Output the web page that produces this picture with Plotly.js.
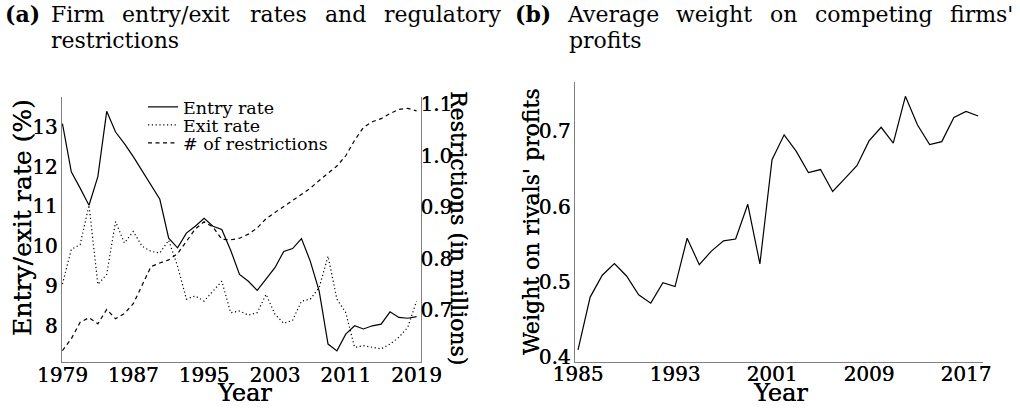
<!DOCTYPE html>
<html>
<head>
<meta charset="utf-8">
<script src="https://cdn.plot.ly/plotly-3.0.1.min.js"></script>
<style>
html,body{margin:0;padding:0;background:#fff;}
#chart{width:1020px;height:409px;}
</style>
</head>
<body>
<div id="chart"></div>
<script>
// ---- Panel (a) data ----
const yearsA = [1979,1980,1981,1982,1983,1984,1985,1986,1987,1988,1989,1990,1991,1992,1993,1994,1995,1996,1997,1998,1999,2000,2001,2002,2003,2004,2005,2006,2007,2008,2009,2010,2011,2012,2013,2014,2015,2016,2017,2018,2019];
const entryRate = [13.08,11.87,11.46,11.03,11.75,13.39,12.87,12.58,12.25,11.9,11.55,11.18,10.2,9.96,10.33,10.5,10.7,10.5,10.42,9.9,9.29,9.12,8.89,9.17,9.46,9.87,9.94,10.19,9.62,8.87,7.54,7.37,7.79,8.0,7.92,8.0,8.04,8.35,8.21,8.19,8.23];
const exitRate = [9.05,9.92,10.04,11.03,9.04,9.29,10.62,10.08,10.37,10.0,9.87,9.83,10.15,9.5,8.67,8.75,8.62,8.87,9.12,8.33,8.37,8.27,8.33,8.79,8.29,8.06,8.14,8.62,8.67,8.96,9.75,8.67,8.33,7.46,7.5,7.46,7.42,7.54,7.71,7.96,8.62];
const restrictions = [0.622,0.645,0.677,0.686,0.674,0.702,0.684,0.694,0.713,0.75,0.785,0.792,0.798,0.81,0.835,0.858,0.872,0.862,0.838,0.837,0.84,0.848,0.86,0.878,0.89,0.902,0.913,0.925,0.937,0.952,0.966,0.98,1.0,1.03,1.055,1.066,1.072,1.082,1.09,1.092,1.087];
const seriesNamesA = ["Entry rate","Exit rate","# of restrictions"];
const xTicksA = [1979,1987,1995,2003,2011,2019];
const yTicksA = [8,9,10,11,12,13];
const yTicksA2 = [0.7,0.8,0.9,1.0,1.1];

// ---- Panel (b) data ----
const yearsB = [1985,1986,1987,1988,1989,1990,1991,1992,1993,1994,1995,1996,1997,1998,1999,2000,2001,2002,2003,2004,2005,2006,2007,2008,2009,2010,2011,2012,2013,2014,2015,2016,2017,2018];
const rivalWeight = [0.41,0.48,0.509,0.5245,0.508,0.483,0.472,0.499,0.494,0.558,0.523,0.541,0.5545,0.557,0.603,0.524,0.662,0.695,0.673,0.645,0.649,0.62,0.637,0.654,0.687,0.705,0.684,0.746,0.708,0.682,0.686,0.718,0.726,0.720];
const xTicksB = [1985,1993,2001,2009,2017];
const yTicksB = [0.4,0.5,0.6,0.7];

// ---- Text ----
const titleA1 = ["<b>(a)</b>","Firm","entry/exit","rates","and","regulatory"];
const titleA2 = "restrictions";
const titleB1 = ["<b>(b)</b>","Average","weight","on","competing","firms'"];
const titleB2 = "profits";

const W = 1020, H = 409;
const px = x => x / W;
const py = y => 1 - y / H;

const FONT = "DejaVu Serif";
const SH = "0.3px 0 0 #000";
const tickFont = {family: FONT, size: 20, color: "#000", shadow: SH};
const legFont = {family: FONT, size: 17.5, color: "#000"};
const axLine = "#808080";

const traces = [
  {x: yearsA, y: entryRate, type: "scatter", mode: "lines", name: seriesNamesA[0],
   line: {color: "#000", width: 1.2}, xaxis: "x", yaxis: "y", legend: "legend"},
  {x: yearsA, y: exitRate, type: "scatter", mode: "lines", name: seriesNamesA[1],
   line: {color: "#000", width: 1.2, dash: "1.2px,2.6px"}, xaxis: "x", yaxis: "y", legend: "legend2"},
  {x: yearsA, y: restrictions, type: "scatter", mode: "lines", name: seriesNamesA[2],
   line: {color: "#000", width: 1.2, dash: "4px,3.5px"}, xaxis: "x", yaxis: "y2", legend: "legend3"},
  {x: yearsB, y: rivalWeight, type: "scatter", mode: "lines", name: "Weight on rivals' profits",
   line: {color: "#000", width: 1.2}, xaxis: "x2", yaxis: "y3", showlegend: false}
];

const baseAxis = {
  showgrid: false, zeroline: false, ticks: "", ticklen: 0, showline: true,
  linecolor: axLine, linewidth: 1.4, tickfont: tickFont, fixedrange: true
};

const ann = [];
const titleFont = {family: FONT, size: 22, color: "#000"};
const a1x = [3, 49, 120, 248, 323, 382];
titleA1.forEach((t, i) => ann.push({text: t, x: px(a1x[i]), y: py(14), xref: "paper", yref: "paper",
  xanchor: "left", yanchor: "middle", showarrow: false, font: titleFont}));
ann.push({text: titleA2, x: px(49), y: py(40), xref: "paper", yref: "paper",
  xanchor: "left", yanchor: "middle", showarrow: false, font: titleFont});
const b1x = [513, 565, 674, 768, 813, 948];
titleB1.forEach((t, i) => ann.push({text: t, x: px(b1x[i]), y: py(14), xref: "paper", yref: "paper",
  xanchor: "left", yanchor: "middle", showarrow: false, font: titleFont}));
ann.push({text: titleB2, x: px(567), y: py(40), xref: "paper", yref: "paper",
  xanchor: "left", yanchor: "middle", showarrow: false, font: titleFont});

// axis titles
const axTitleFont = {family: FONT, size: 24, color: "#000", shadow: SH};
const sideTitleFont = {family: FONT, size: 22, color: "#000", shadow: SH};
ann.push({text: "Entry/exit rate (%)", x: px(22), y: py(218), xref: "paper", yref: "paper",
  textangle: -90, xanchor: "center", yanchor: "middle", showarrow: false, font: {family: FONT, size: 25, color: "#000", shadow: SH}});
ann.push({text: "Restrictions (in millions)", x: px(459), y: py(228), xref: "paper", yref: "paper",
  textangle: 90, xanchor: "center", yanchor: "middle", showarrow: false, font: sideTitleFont});
ann.push({text: "Year", x: px(244), y: 0, xref: "paper", yref: "paper",
  xanchor: "center", yanchor: "bottom", showarrow: false, font: axTitleFont});
ann.push({text: "Weight on rivals' profits", x: px(532), y: py(222), xref: "paper", yref: "paper",
  textangle: -90, xanchor: "center", yanchor: "middle", showarrow: false, font: sideTitleFont});
ann.push({text: "Year", x: px(780), y: 0, xref: "paper", yref: "paper",
  xanchor: "center", yanchor: "bottom", showarrow: false, font: axTitleFont});

const legBase = {xanchor: "left", yanchor: "middle", bgcolor: "rgba(0,0,0,0)", borderwidth: 0, font: legFont};

const layout = {
  width: W, height: H,
  margin: {l: 0, r: 0, t: 0, b: 0, autoexpand: false},
  paper_bgcolor: "#fff", plot_bgcolor: "#fff",
  font: {family: FONT, color: "#000"},
  xaxis: Object.assign({}, baseAxis, {domain: [px(62), px(421)], range: [1978.95, 2019.5],
    tickvals: xTicksA, anchor: "y", ticklabelstandoff: -5}),
  yaxis: Object.assign({}, baseAxis, {domain: [py(362), py(97)], range: [7.09, 13.75],
    tickvals: yTicksA, anchor: "x", ticklabelstandoff: -1}),
  yaxis2: Object.assign({}, baseAxis, {domain: [py(362), py(97)], range: [0.60, 1.114],
    tickvals: yTicksA2, tickformat: ".1f", overlaying: "y", side: "right", anchor: "x", ticklabelstandoff: -6}),
  xaxis2: Object.assign({}, baseAxis, {domain: [px(575), px(983)], range: [1984.75, 2018.4],
    tickvals: xTicksB, anchor: "y3", ticklabelstandoff: -6}),
  yaxis3: Object.assign({}, baseAxis, {domain: [py(362), py(82)], range: [0.394, 0.765],
    tickvals: yTicksB, tickformat: ".1f", anchor: "x2", ticklabelstandoff: -1}),
  legend: Object.assign({}, legBase, {x: px(143), y: py(107)}),
  legend2: Object.assign({}, legBase, {x: px(143), y: py(125)}),
  legend3: Object.assign({}, legBase, {x: px(143), y: py(143)}),
  annotations: ann
};

Plotly.newPlot("chart", traces, layout, {displayModeBar: false, staticPlot: true});
</script>
</body>
</html>
